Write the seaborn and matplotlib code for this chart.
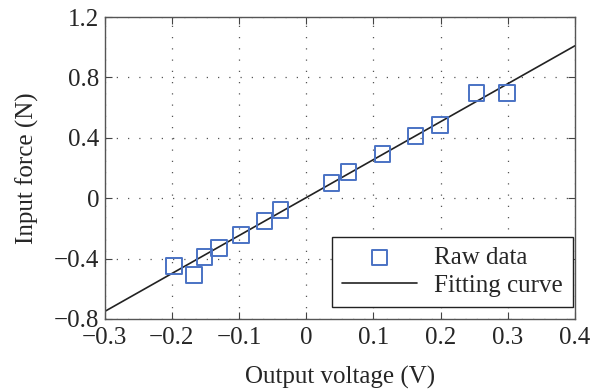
import numpy as np
import pandas as pd
import seaborn as sns
import matplotlib.pyplot as plt

voltage = [-0.197, -0.167, -0.151, -0.130, -0.097, -0.062, -0.038,
           0.038, 0.063, 0.114, 0.163, 0.199, 0.253, 0.299]
force = [-0.449, -0.509, -0.389, -0.330, -0.244, -0.151, -0.078,
         0.101, 0.174, 0.293, 0.412, 0.485, 0.697, 0.697]

# fitted line end points
fit_voltage = [-0.3, 0.4]
fit_force = [-0.75, 1.01]

x_ticks = [-0.3, -0.2, -0.1, 0, 0.1, 0.2, 0.3, 0.4]
y_ticks = [-0.8, -0.4, 0, 0.4, 0.8, 1.2]

raw = pd.DataFrame({'voltage': voltage, 'force': force})
fit = pd.DataFrame({'voltage': fit_voltage, 'force': fit_force})

sns.set_style("ticks")
plt.rcParams['font.family'] = ['Liberation Serif', 'DejaVu Serif']

fig = plt.figure(figsize=(6.02, 3.89), dpi=100)
ax = fig.add_axes([0.174, 0.180, 0.781, 0.776])

sns.scatterplot(data=raw, x='voltage', y='force', marker='s', s=120,
                facecolors='none', edgecolor='#4a72c4', linewidth=1.4,
                label='Raw data', ax=ax, zorder=3)
sns.lineplot(data=fit, x='voltage', y='force', color='#222222', linewidth=1.2,
             label='Fitting curve', ax=ax, zorder=2)

ax.set_xlim(-0.3, 0.4)
ax.set_ylim(-0.8, 1.2)
ax.set_xticks(x_ticks)
ax.set_yticks(y_ticks)
ax.set_xticklabels(['\u22120.3', '\u22120.2', '\u22120.1', '0', '0.1', '0.2', '0.3', '0.4'])
ax.set_yticklabels(['\u22120.8', '\u22120.4', '0', '0.4', '0.8', '1.2'])
ax.grid(True, linestyle=(0, (1, 8)), color='#555555', linewidth=0.9)
ax.tick_params(direction='in', top=True, right=True, labelsize=18,
               length=5, color='#444444', pad=4)
ax.tick_params(axis='x', pad=6)
for sp in ax.spines.values():
    sp.set_visible(True)
    sp.set_color('#555555')
    sp.set_linewidth(1.0)

ax.set_xlabel('Output voltage (V)', fontsize=18, labelpad=12)
ax.set_ylabel('Input force (N)', fontsize=18, labelpad=11)

leg = ax.legend(loc='lower right', bbox_to_anchor=(0.996, 0.04), fontsize=18,
                frameon=True, fancybox=False, edgecolor='#222222', framealpha=1,
                borderaxespad=0, borderpad=0.4, labelspacing=0.2,
                handlelength=3.0, handletextpad=0.7)
leg.get_frame().set_linewidth(1.0)

fig.savefig('out.png', dpi=100)
